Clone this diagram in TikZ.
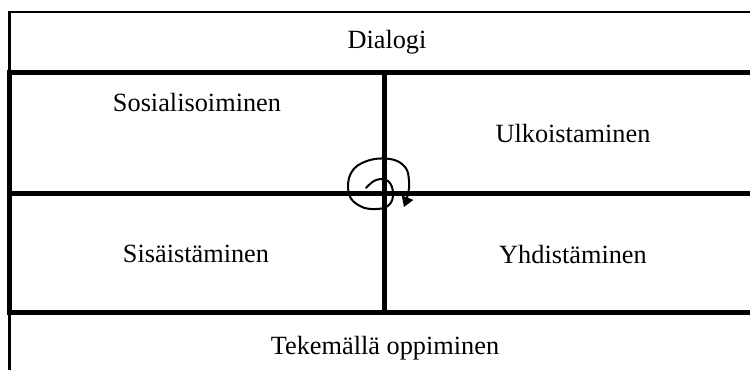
\documentclass[tikz,border=0pt]{standalone}
\usepackage{fontspec}
\setmainfont{Liberation Serif}
\usetikzlibrary{arrows.meta}
\begin{document}
\begin{tikzpicture}[x=1pt,y=-1pt,
  thinrule/.style={line width=2.6pt},
  thickrule/.style={line width=5pt},
  label/.style={font=\fontsize{26.3}{30}\selectfont, inner sep=0pt},
  swirl/.style={line width=2pt, line cap=round, line join=round}]
\useasboundingbox (0,0) rectangle (750,370);

% grid corners
\coordinate (tl) at (9.5,12);
\coordinate (tr) at (750,12);
\coordinate (ml) at (9.5,72.5);
\coordinate (mr) at (750,72.5);
\coordinate (cl) at (9.5,193.5);
\coordinate (cr) at (750,193.5);
\coordinate (bl) at (9.5,312.5);
\coordinate (br) at (750,312.5);
\coordinate (vt) at (384.5,72.5);
\coordinate (vb) at (384.5,312.5);
\coordinate (foot) at (9.5,370);

% outer frame, thin parts
\draw[thinrule] ([xshift=-1.3pt]tl) -- (tr);
\draw[thinrule] (tl) -- (ml);
\draw[thinrule] (bl) -- (foot);

% thick grid
\draw[thickrule] ([xshift=-2.5pt]ml) -- (mr);
\draw[thickrule] ([xshift=-2.5pt]cl) -- (cr);
\draw[thickrule] ([xshift=-2.5pt]bl) -- (br);
\draw[thickrule] ([yshift=-2.5pt]ml) -- ([yshift=2.5pt]bl);
\draw[thickrule] ([yshift=-2.5pt]vt) -- ([yshift=2.5pt]vb);

% labels
\node[label] (dialogi) at (387,42) {Dialogi};
\node[label] (sos) at (197,103) {Sosialisoiminen};
\node[label] (ulk) at (573,134) {Ulkoistaminen};
\node[label] (sis) at (196,254) {Sisäistäminen};
\node[label] (yhd) at (573,254) {Yhdistäminen};
\node[label] (tek) at (385,348) {Tekemällä oppiminen};

% spiral in the centre
\draw[swirl, -{Triangle[length=10pt,width=12pt]}]
  plot[smooth, tension=0.7] coordinates {
    (366,188) (376,180) (388,181) (393,193) (389,205) (376,209)
    (360,206) (349,194) (351,173) (367,161) (390,159) (405,167)
    (409,181) (408,194) (404,207)};
\end{tikzpicture}
\end{document}
